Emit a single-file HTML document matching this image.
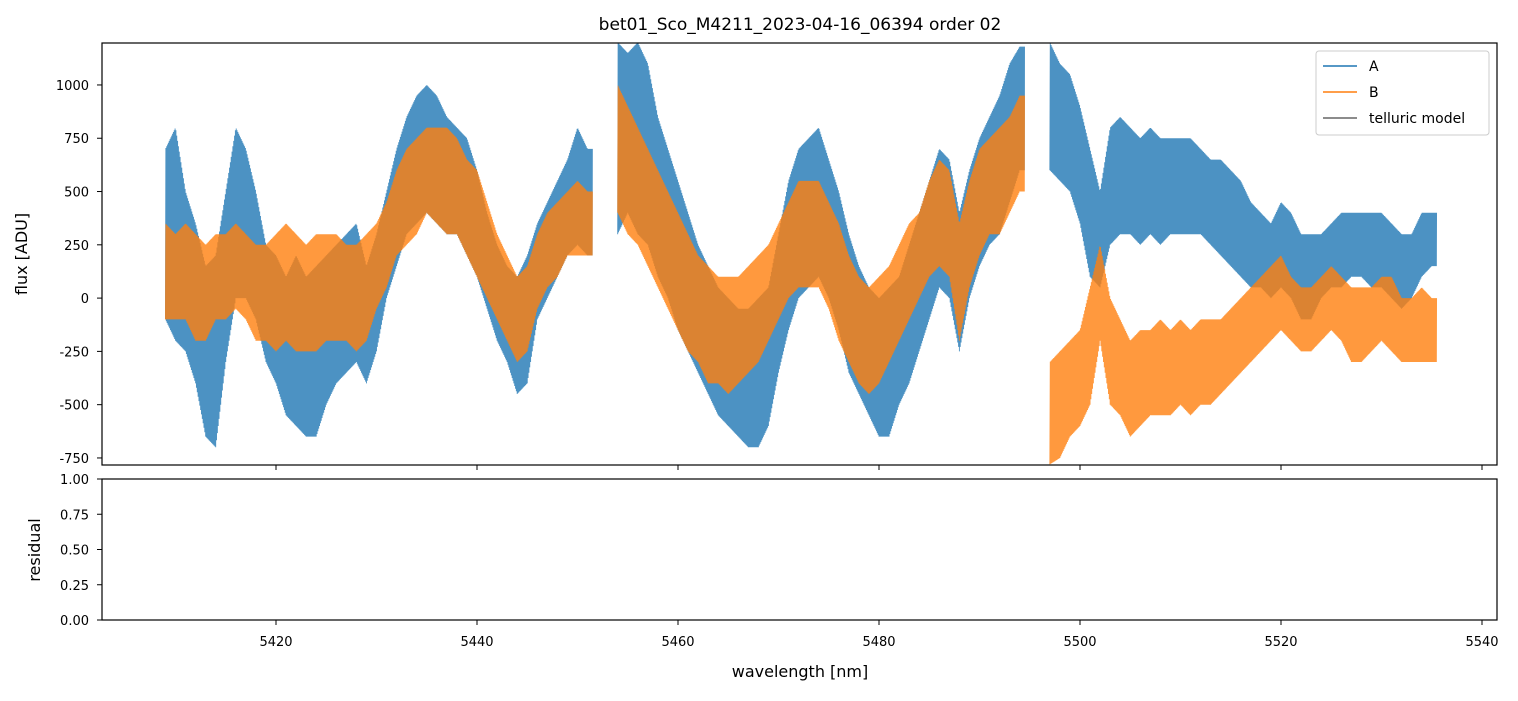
<!DOCTYPE html>
<html><head><meta charset="utf-8"><style>
body{margin:0;background:#fff;}
svg text{font-family:"DejaVu Sans","Liberation Sans",sans-serif;fill:#000;}
</style></head><body>
<svg id="c" width="1518" height="696" xmlns="http://www.w3.org/2000/svg">
<defs><clipPath id="clipTop"><rect x="102" y="43" width="1395" height="422"/></clipPath></defs>
<rect width="1518" height="696" fill="#fff"/>
<text x="800" y="30" font-size="17" text-anchor="middle">bet01_Sco_M4211_2023-04-16_06394  order 02</text>
<g id="series" clip-path="url(#clipTop)"></g>
<rect x="102" y="43" width="1395" height="422" fill="none" stroke="#000" stroke-width="1.2"/>
<rect x="102" y="479" width="1395" height="141" fill="none" stroke="#000" stroke-width="1.2"/>
<g id="axes"></g>
<text x="27" y="254" font-size="16" text-anchor="middle" transform="rotate(-90 27 254)">flux [ADU]</text>
<text x="40" y="550" font-size="16" text-anchor="middle" transform="rotate(-90 40 550)">residual</text>
<text x="800" y="677" font-size="16" text-anchor="middle">wavelength [nm]</text>
<g>
<rect x="1316" y="51" width="173" height="84" rx="3" fill="#fff" fill-opacity="0.8" stroke="#ccc"/>
<line x1="1323" y1="66" x2="1357" y2="66" stroke="#1f77b4" stroke-width="1.5"/>
<text x="1369" y="71" font-size="14">A</text>
<line x1="1323" y1="92" x2="1357" y2="92" stroke="#ff7f0e" stroke-width="1.5"/>
<text x="1369" y="97" font-size="14">B</text>
<line x1="1323" y1="118" x2="1357" y2="118" stroke="#666" stroke-width="1.5"/>
<text x="1369" y="123" font-size="14">telluric model</text>
</g>
</svg>
<script>
const waveA=[5409,5410,5411,5412,5413,5414,5415,5416,5417,5418,5419,5420,5421,5422,5423,5424,5425,5426,5427,5428,5429,5430,5431,5432,5433,5434,5435,5436,5437,5438,5439,5440,5441,5442,5443,5444,5445,5446,5447,5448,5449,5450,5451,5454,5455,5456,5457,5458,5459,5460,5461,5462,5463,5464,5465,5466,5467,5468,5469,5470,5471,5472,5473,5474,5475,5476,5477,5478,5479,5480,5481,5482,5483,5484,5485,5486,5487,5488,5489,5490,5491,5492,5493,5494,5497,5498,5499,5500,5501,5502,5503,5504,5505,5506,5507,5508,5509,5510,5511,5512,5513,5514,5515,5516,5517,5518,5519,5520,5521,5522,5523,5524,5525,5526,5527,5528,5529,5530,5531,5532,5533,5534,5535];
const loA=[-100,-200,-250,-400,-650,-700,-300,0,0,-100,-300,-400,-550,-600,-650,-650,-500,-400,-350,-300,-400,-250,0,150,300,350,400,350,300,300,200,100,-50,-200,-300,-450,-400,-100,0,100,200,250,200,300,400,300,250,100,0,-150,-250,-350,-450,-550,-600,-650,-700,-700,-600,-350,-150,0,50,100,0,-150,-350,-450,-550,-650,-650,-500,-400,-250,-100,50,0,-250,0,150,250,300,450,600,600,550,500,350,100,50,250,300,300,250,300,250,300,300,300,300,250,200,150,100,50,50,0,50,0,-100,-100,0,50,50,100,100,50,50,0,-50,0,100,150];
const hiA=[700,800,500,350,150,200,500,800,700,500,250,200,100,200,100,150,200,250,300,350,150,300,500,700,850,950,1000,950,850,800,750,600,400,250,150,100,200,350,450,550,650,800,700,1200,1150,1200,1100,850,700,550,400,250,150,50,0,-50,-50,0,50,300,550,700,750,800,650,500,300,150,50,0,50,100,250,400,550,700,650,400,600,750,850,950,1100,1180,1200,1100,1050,900,700,500,800,850,800,750,800,750,750,750,750,700,650,650,600,550,450,400,350,450,400,300,300,300,350,400,400,400,400,400,350,300,300,400,400];
const waveB=waveA;
const loB=[-100,-100,-100,-200,-200,-100,-100,-50,-100,-200,-200,-250,-200,-250,-250,-250,-200,-200,-200,-250,-200,-50,50,200,250,300,400,350,300,300,200,100,0,-100,-200,-300,-250,-50,50,100,200,200,200,400,300,250,150,50,-50,-150,-250,-300,-400,-400,-450,-400,-350,-300,-200,-100,0,50,50,50,-50,-200,-300,-400,-450,-400,-300,-200,-100,0,100,150,100,-200,50,200,300,300,400,500,-780,-750,-650,-600,-500,-200,-500,-550,-650,-600,-550,-550,-550,-500,-550,-500,-500,-450,-400,-350,-300,-250,-200,-150,-200,-250,-250,-200,-150,-200,-300,-300,-250,-200,-250,-300,-300,-300,-300];
const hiB=[350,300,350,300,250,300,300,350,300,250,250,300,350,300,250,300,300,300,250,250,300,350,450,600,700,750,800,800,800,750,650,600,450,300,200,100,150,300,400,450,500,550,500,1000,900,800,700,600,500,400,300,200,150,100,100,100,150,200,250,350,450,550,550,550,450,350,200,100,50,100,150,250,350,400,550,650,600,350,550,700,750,800,850,950,-300,-250,-200,-150,50,250,0,-100,-200,-150,-150,-100,-150,-100,-150,-100,-100,-100,-50,0,50,100,150,200,100,50,50,100,150,100,50,50,50,100,100,0,0,50,0];
const xTicks=[5420,5440,5460,5480,5500,5520,5540];
const yTicks=[-750,-500,-250,0,250,500,750,1000];
const rTicks=[0,0.25,0.5,0.75,1];
const rTickLabels=["0.00","0.25","0.50","0.75","1.00"];

const NS="http://www.w3.org/2000/svg";
function xs(w){return 276+(w-5420)*(1206/120);}
function ys(v){return 298.1-v*0.21314;}
function rs(v){return 620-v*141;}
function mk(tag,attrs,parent){const e=document.createElementNS(NS,tag);for(const k in attrs)e.setAttribute(k,attrs[k]);parent.appendChild(e);return e;}
const series=document.getElementById('series');
function drawSeries(wave,lo,hi,color,name){
  let segs=[],cur=[];
  for(let i=0;i<wave.length;i++){
    if(i>0&&wave[i]-wave[i-1]>1.5){segs.push(cur);cur=[];}
    cur.push(i);
  }
  segs.push(cur);
  const SUB=24;
  segs.forEach((seg,si)=>{
    let pts=[];
    seg.forEach((i,k)=>{
      const last=k===seg.length-1;
      const n=last?i:seg[k+1];
      for(let s=0;s<SUB;s++){
        const t=s/SUB;
        const w=wave[i]+t*(last?0.5:1);
        const l=lo[i]+(lo[n]-lo[i])*t, h=hi[i]+(hi[n]-hi[i])*t;
        pts.push(xs(w).toFixed(2)+','+ys(s%2?h:l).toFixed(1));
      }
    });
    const p=mk('polyline',{points:pts.join(' '),fill:'none',stroke:color,'stroke-width':0.9,'stroke-opacity':0.8,'stroke-linejoin':'bevel'},series);
    
    
  });
}
drawSeries(waveA,loA,hiA,'#1f77b4','series-a');
drawSeries(waveB,loB,hiB,'#ff7f0e','series-b');
const axes=document.getElementById('axes');
xTicks.forEach(t=>{
  const x=xs(t);
  const a=mk('line',{x1:x,y1:465,x2:x,y2:470,stroke:'#000'},axes);
  
  
  const b=mk('line',{x1:x,y1:620,x2:x,y2:625,stroke:'#000'},axes);
  
  
  const tx=mk('text',{x:x,y:646,'font-size':13,'text-anchor':'middle'},axes);
  tx.textContent=t;
  
  
});
yTicks.forEach(t=>{
  const y=ys(t);
  const a=mk('line',{x1:97,y1:y,x2:102,y2:y,stroke:'#000'},axes);
  
  
  const tx=mk('text',{x:89,y:y+5,'font-size':13,'text-anchor':'end'},axes);
  tx.textContent=t;
  
  
});
rTicks.forEach((t,i)=>{
  const y=rs(t);
  const a=mk('line',{x1:97,y1:y,x2:102,y2:y,stroke:'#000'},axes);
  
  
  const tx=mk('text',{x:89,y:y+5,'font-size':13,'text-anchor':'end'},axes);
  tx.textContent=rTickLabels[i];
  
  
});
</script>
</body></html>
